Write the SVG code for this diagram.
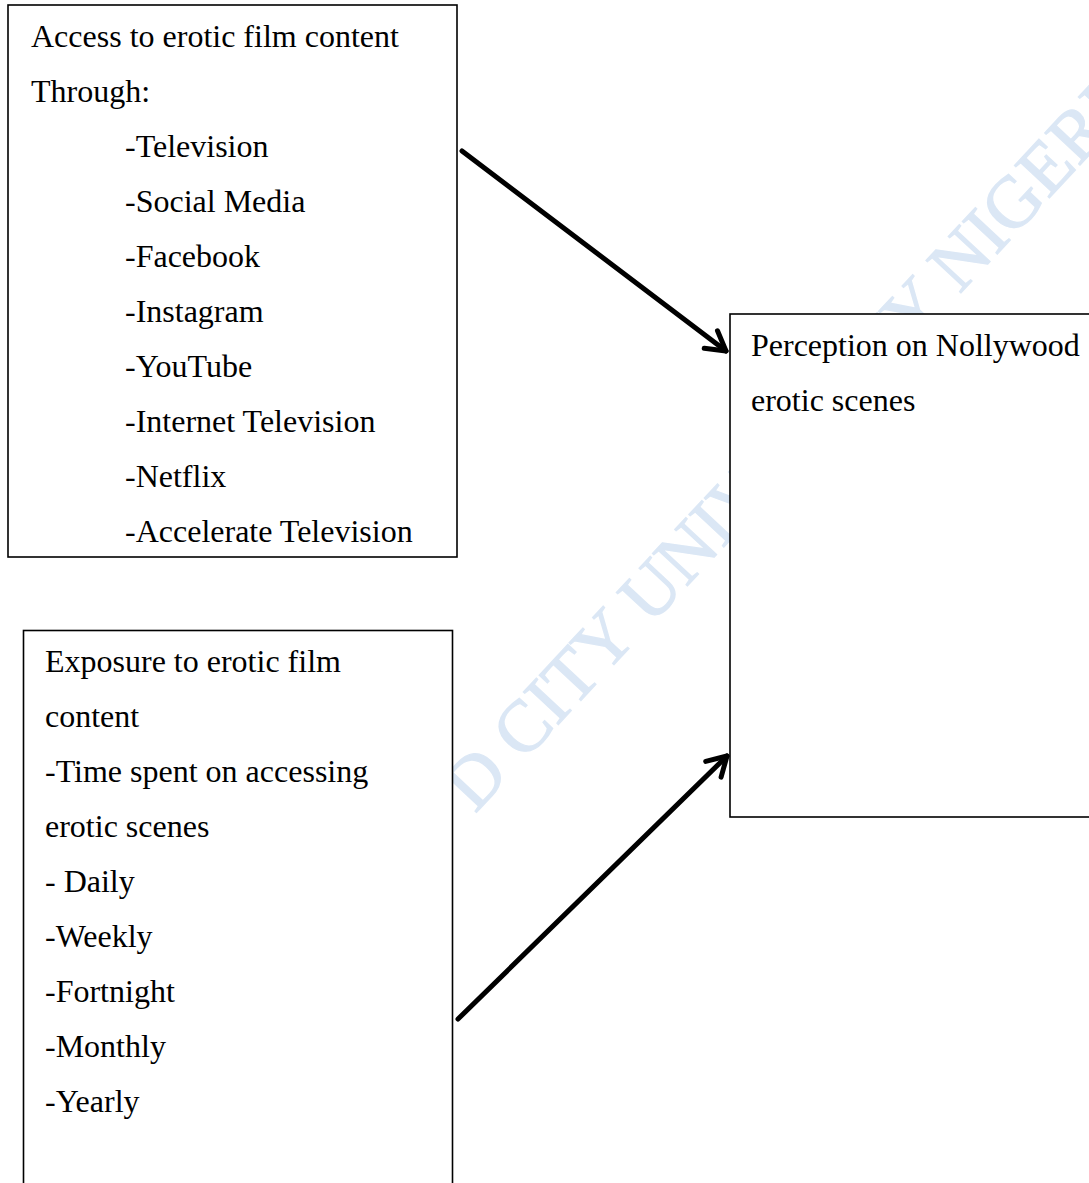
<svg xmlns="http://www.w3.org/2000/svg" width="1089" height="1183" viewBox="0 0 1089 1183">
<defs>
<style>
.box{fill:#ffffff;stroke:#000000;stroke-width:1.6}
.t{font-family:"Liberation Serif","Times New Roman",serif;font-size:32px;fill:#000000}
.wm{font-family:"Liberation Serif","Times New Roman",serif;font-size:73px;fill:#dbe7f5;stroke:#dbe7f5;stroke-width:1.2}
.conn{stroke:#000000;stroke-width:5;fill:none;stroke-linecap:round}
</style>
<marker id="arr" markerUnits="userSpaceOnUse" orient="auto" refX="0" refY="0" markerWidth="40" markerHeight="40" overflow="visible">
<path d="M-19,-11 L0,0 L-19,11" fill="none" stroke="#000000" stroke-width="5" stroke-linecap="round" stroke-linejoin="round"/>
</marker>
</defs>
<rect width="1089" height="1183" fill="#ffffff"/>
<g id="watermark">
<text class="wm" transform="translate(475,814) rotate(-47)">D CITY UNIVERSITY NIGERIA</text>
</g>
<g id="connectors">
<line class="conn" x1="462" y1="151" x2="726" y2="351" marker-end="url(#arr)"/>
<line class="conn" x1="458" y1="1019" x2="727" y2="756" marker-end="url(#arr)"/>
</g>
<g id="access">
<rect class="box" x="8" y="5" width="449" height="552"/>
<text class="t" x="31" y="47">Access to erotic film content</text>
<text class="t" x="31" y="102">Through:</text>
<text class="t" x="125" y="157">-Television</text>
<text class="t" x="125" y="212">-Social Media</text>
<text class="t" x="125" y="267">-Facebook</text>
<text class="t" x="125" y="322">-Instagram</text>
<text class="t" x="125" y="377">-YouTube</text>
<text class="t" x="125" y="432">-Internet Television</text>
<text class="t" x="125" y="487">-Netflix</text>
<text class="t" x="125" y="542">-Accelerate Television</text>
</g>
<g id="exposure">
<rect class="box" x="23.5" y="630.5" width="429" height="570"/>
<text class="t" x="45" y="672">Exposure to erotic film</text>
<text class="t" x="45" y="727">content</text>
<text class="t" x="45" y="782">-Time spent on accessing</text>
<text class="t" x="45" y="837">erotic scenes</text>
<text class="t" x="45" y="892">- Daily</text>
<text class="t" x="45" y="947">-Weekly</text>
<text class="t" x="45" y="1002">-Fortnight</text>
<text class="t" x="45" y="1057">-Monthly</text>
<text class="t" x="45" y="1112">-Yearly</text>
</g>
<g id="perception">
<rect class="box" x="730" y="314" width="370" height="503"/>
<text class="t" x="751" y="356">Perception on Nollywood</text>
<text class="t" x="751" y="411">erotic scenes</text>
</g>
</svg>
